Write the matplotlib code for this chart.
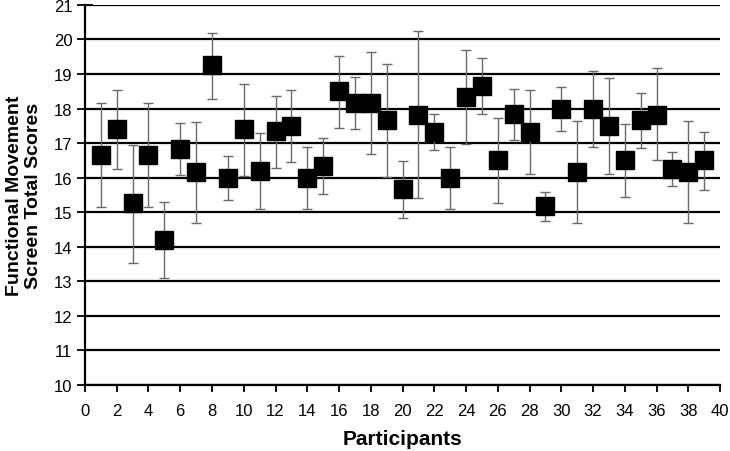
import numpy as np
import matplotlib
matplotlib.use('Agg')
import matplotlib.pyplot as plt

plt.rcParams['font.family'] = ['Liberation Sans', 'DejaVu Sans']

participants = list(range(1, 40))
scores = [16.67, 17.41, 15.26, 16.67, 14.20, 16.84, 16.16, 19.25, 15.99, 17.41,
          16.18, 17.35, 17.50, 15.99, 16.33, 18.50, 18.15, 18.15, 17.66, 15.66,
          17.82, 17.32, 15.99, 18.33, 18.65, 16.50, 17.83, 17.32, 15.17, 18.00,
          16.16, 18.00, 17.50, 16.50, 17.66, 17.82, 16.25, 16.16, 16.50]
upper = [18.15, 18.54, 16.95, 18.15, 15.29, 17.57, 17.62, 20.20, 16.62, 18.72,
         17.28, 18.36, 18.54, 16.88, 17.14, 19.53, 18.91, 19.63, 19.29, 16.47,
         20.23, 17.83, 16.88, 19.69, 19.47, 17.73, 18.58, 18.54, 15.58, 18.62,
         17.63, 19.08, 18.88, 17.54, 18.46, 19.16, 16.74, 17.63, 17.33]
lower = [15.16, 16.24, 13.54, 15.16, 13.10, 16.07, 14.68, 18.29, 15.36, 16.06,
         15.10, 16.29, 16.44, 15.09, 15.52, 17.45, 17.40, 16.68, 16.03, 14.84,
         15.42, 16.80, 15.09, 16.97, 17.83, 15.27, 17.08, 16.12, 14.75, 17.36,
         14.68, 16.90, 16.12, 15.45, 16.85, 16.50, 15.75, 14.68, 15.65]

scores = np.array(scores)
yerr = [scores - np.array(lower), np.array(upper) - scores]

fig = plt.figure(figsize=(7.3, 4.52), dpi=100)
ax = fig.add_axes([0.1164, 0.146, 0.870, 0.841])

for y in range(10, 22):
    ax.axhline(y, color='black', lw=1.6, zorder=1)

ax.errorbar(participants, scores, yerr=yerr, fmt='none', ecolor='#6a6a6a',
            elinewidth=1.0, capsize=3.5, capthick=1.0, zorder=2)
ax.plot(participants, scores, 's', color='black', markersize=13, zorder=3)

ax.set_xlim(0, 40)
ax.set_ylim(10, 21)
ax.set_xticks(range(0, 41, 2))
ax.set_yticks(range(10, 22))
ax.spines['top'].set_visible(False)
ax.spines['right'].set_visible(False)
ax.spines['left'].set_linewidth(1.6)
ax.spines['bottom'].set_linewidth(1.6)
ax.tick_params(axis='x', direction='out', length=5, width=1.3, labelsize=12, pad=8)
ax.tick_params(axis='y', direction='inout', length=12, width=1.3, labelsize=12, pad=3)

ax.set_xlabel('Participants', fontsize=15, fontweight='bold', labelpad=8)
ax.set_ylabel('Functional Movement\nScreen Total Scores', fontsize=14,
              fontweight='bold', linespacing=1.15)
ax.yaxis.set_label_coords(-0.068, 0.5)

fig.savefig('out.png', dpi=100)
